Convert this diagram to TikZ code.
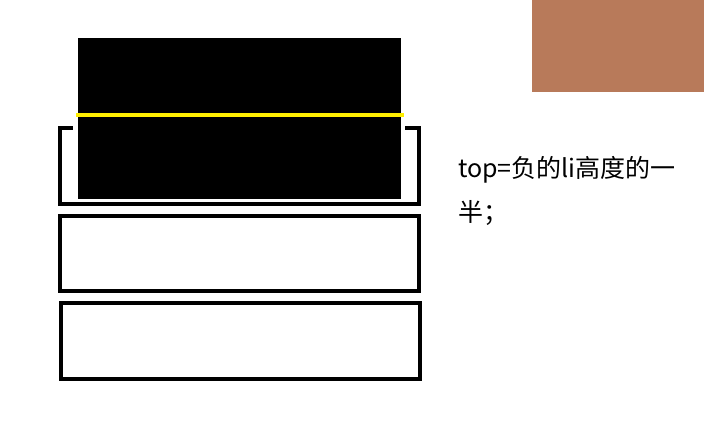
\documentclass[tikz,border=0pt]{standalone}
\usepackage{fontspec}
\newfontfamily\cjk{Noto Sans CJK SC}
\usetikzlibrary{positioning}
\definecolor{clay}{RGB}{184,122,90}
\definecolor{marker}{RGB}{255,238,0}
\tikzset{libox/.style={draw=black,line width=4.3pt}}

\begin{document}
\begin{tikzpicture}[x=1pt,y=-1pt]
\useasboundingbox[fill=white] (0,0) rectangle (704,428);
\path[shape=coordinate]
(60,128) coordinate(l1a) (419,204) coordinate(l1b)
(60,216) coordinate(l2a) (419,291) coordinate(l2b)
(61,303) coordinate(l3a) (420,379) coordinate(l3b);
\draw[libox] (l1a) rectangle (l1b);
\draw[libox] (l2a) rectangle (l2b);
\draw[libox] (l3a) rectangle (l3b);
\path[shape=coordinate]
(73,121) coordinate(w1) (405,202) coordinate(w2)
(78,38) coordinate(b1) (401,199) coordinate(b2);
\fill[white] (w1) rectangle (w2);
\fill[black] (b1) rectangle (b2);
\path[shape=coordinate]
(76,115) coordinate(y1) (404,115) coordinate(y2);
\draw[marker,line width=4.3pt] (y1) -- (y2);
\path[shape=coordinate]
(532,0) coordinate(c1) (704,92) coordinate(c2);
\fill[clay] (c1) rectangle (c2);
\node[anchor=base west,inner sep=0pt,font=\cjk\fontsize{25}{44}\selectfont] (note) at (458,177) {top=负的li高度的一};
\node[anchor=base west,inner sep=0pt,font=\cjk\fontsize{25}{44}\selectfont] (note2) at (458,221) {半；};
\end{tikzpicture}
\end{document}
